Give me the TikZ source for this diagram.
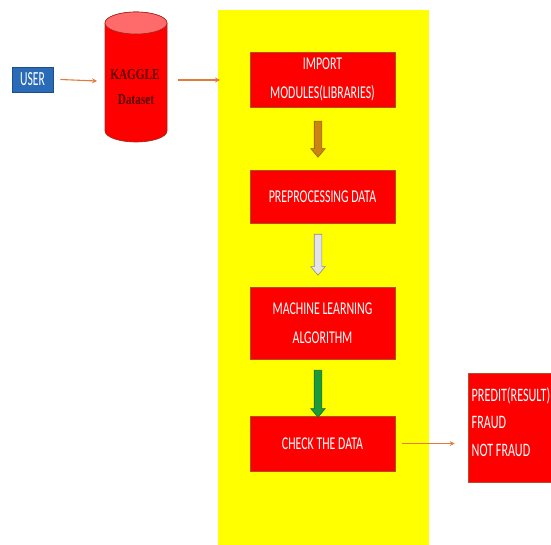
\documentclass[tikz,border=0pt]{standalone}
\usepackage{fontspec}
\usetikzlibrary{shapes.geometric,shapes.arrows,arrows.meta}
\newfontfamily\boxfont[FakeStretch=0.66]{Carlito}
\newfontfamily\userfont[FakeStretch=0.58]{Carlito}
\newfontfamily\resfont[FakeStretch=0.64]{Carlito}
\newfontfamily\dbfont[FakeStretch=0.75,BoldFont={Liberation Serif Bold}]{Liberation Serif}
\definecolor{panelyellow}{HTML}{FFFF00}
\definecolor{boxred}{HTML}{FF0000}
\definecolor{boxedge}{HTML}{B0502A}
\definecolor{userblue}{HTML}{2A6BB8}
\definecolor{useredge}{HTML}{1F4E86}
\definecolor{linkorange}{HTML}{E07B39}
\definecolor{dbtop}{HTML}{FF6B6B}
\definecolor{dbedge}{HTML}{A0281E}
\definecolor{dbtext}{HTML}{5A0000}
\definecolor{arrowbrown}{HTML}{C98412}
\definecolor{arrowbrownedge}{HTML}{9A6208}
\definecolor{arrowgrey}{HTML}{E4E4E4}
\definecolor{arrowgreyedge}{HTML}{8C8C8C}
\definecolor{arrowgreen}{HTML}{1F9A3A}
\definecolor{arrowgreenedge}{HTML}{157028}
\tikzset{
  stepbox/.style={draw=boxedge, line width=0.6pt, fill=boxred, text=white,
    minimum width=145pt, inner sep=0pt, align=center,
    font=\boxfont\fontsize{18}{29}\selectfont},
  link/.style={draw=linkorange, line width=1.1pt, -{Stealth[length=5pt,width=5pt]}},
  blockarrow/.style={single arrow, shape border rotate=270, minimum height=#1,
    inner sep=3.5pt, single arrow head extend=3.5pt, single arrow tip angle=80,
    line width=0.6pt},
}
\begin{document}
\begin{tikzpicture}[x=1pt,y=-1pt]
  \useasboundingbox (0,0) rectangle (551,545);
  % yellow processing panel
  \fill[panelyellow] (218,10) rectangle (429,545);

  % user
  \node[draw=useredge, fill=userblue, text=white, line width=0.6pt,
        minimum width=41pt, minimum height=25pt, inner sep=0pt,
        font=\userfont\fontsize{20}{20}\selectfont] (user) at (32.5,79.5) {USER};

  % dataset cylinder (y axis points down, so arcs run the other way)
  \path[draw=dbedge, fill=boxred, line width=0.6pt]
    (105,23) -- (105,131) arc[start angle=180, end angle=0, x radius=31, y radius=11]
    -- (167,23) arc[start angle=0, end angle=-180, x radius=31, y radius=11] -- cycle;
  \draw[dbedge, fill=dbtop, line width=0.6pt] (136,23) ellipse[x radius=31, y radius=11];
  \node[inner sep=0pt, text=dbtext, font=\dbfont\bfseries\fontsize{15}{15}\selectfont]
    (kaggle) at (135,75) {KAGGLE};
  \node[inner sep=0pt, text=dbtext, font=\dbfont\bfseries\fontsize{15}{15}\selectfont]
    (dataset) at (136,100) {Dataset};
  \coordinate (dbw) at (105,81);
  \coordinate (dbe) at (167,80);

  % pipeline steps
  \node[stepbox, minimum height=55pt] (import) at (322.5,79.5)
    {IMPORT\\MODULES(LIBRARIES)};
  \node[stepbox, minimum height=53pt] (prep) at (322.5,196.5) {PREPROCESSING DATA};
  \node[stepbox, minimum height=72pt] (ml) at (322.5,323)
    {MACHINE LEARNING\\ALGORITHM};
  \node[stepbox, minimum height=55pt] (check) at (322.5,443.5) {CHECK THE DATA};

  % result
  \node[draw=boxedge, fill=boxred, line width=0.6pt, minimum width=90pt,
        minimum height=109pt, inner sep=0pt] (result) at (513,427.5) {};
  \node[anchor=west, text=white, inner sep=0pt, align=left,
        font=\resfont\fontsize{19}{27.5}\selectfont] (resulttext) at (471.5,422)
    {PREDIT(RESULT)\\FRAUD\\NOT FRAUD};

  % connectors
  \draw[link] ([xshift=7pt]user.east) -- ([xshift=-8pt]dbw);
  \draw[link] ([xshift=11pt]dbe) -- (220,80);
  \draw[link] ([xshift=7pt]check.east) -- ([xshift=-13pt]result.west |- check.east);

  % block arrows between steps
  \node[blockarrow=36pt, fill=arrowbrown, draw=arrowbrownedge] (a1) at (318,137) {};
  \node[blockarrow=41pt, fill=arrowgrey, draw=arrowgreyedge] (a2) at (318,252.5) {};
  \node[blockarrow=47pt, fill=arrowgreen, draw=arrowgreenedge] (a3) at (318,391.5) {};
\end{tikzpicture}
\end{document}
